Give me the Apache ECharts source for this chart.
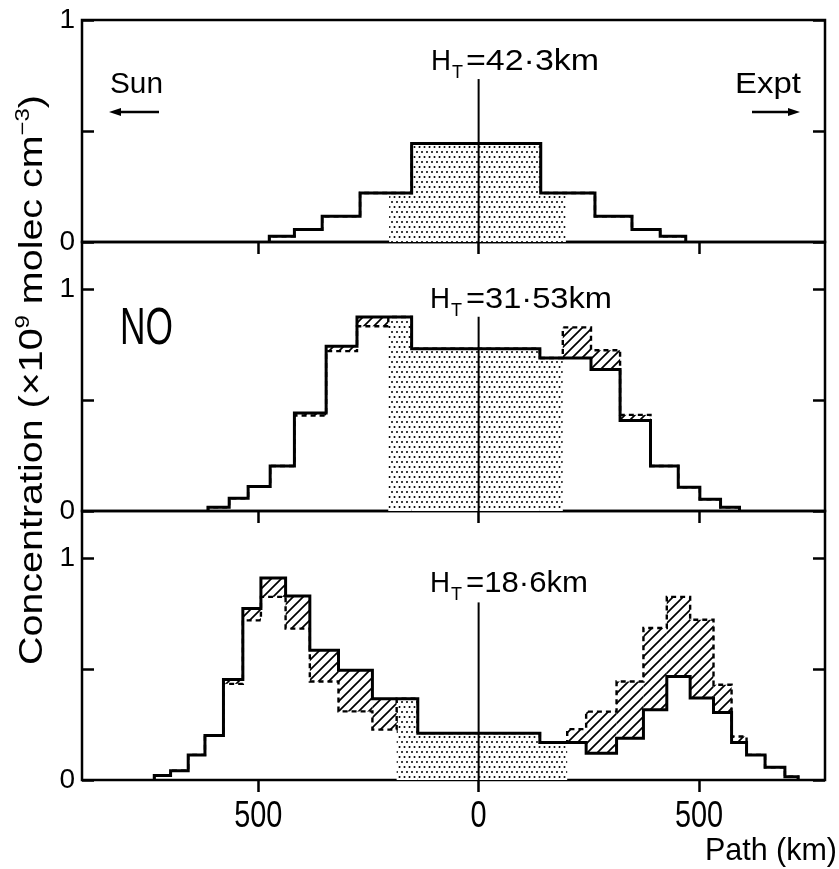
<!DOCTYPE html>
<html><head><meta charset="utf-8">
<script src="https://cdn.jsdelivr.net/npm/echarts@6/dist/echarts.min.js"></script>
<style>html,body{margin:0;padding:0;background:#fff}#chart{width:839px;height:869px}</style>
</head><body><div id="chart"></div>
<script>
// ---------------- data ----------------
const xTickValues = [-500, 0, 500];
const xTickLabels = ['500', '0', '500'];
const yLabelValues = [0, 1];
const panelHeights = ['=42·3km', '=31·53km', '=18·6km'];

// top panel, H_T = 42.3 km
const topEdges = [-475, -418, -355, -269, -203, -152, 141, 198, 264, 348, 412, 470];
const topSolid = [0.026, 0.056, 0.116, 0.221, 0.221, 0.444, 0.221, 0.221, 0.116, 0.056, 0.026];
const topDashed = topSolid;
const topStipple = [-203, 198];

// middle panel, H_T = 31.53 km
const midEdges = [-614, -566, -523, -473, -418, -346, -276, -205, -152, 139, 191, 255, 321, 390, 453, 502, 549, 592];
const midSolid = [0.017, 0.057, 0.11, 0.203, 0.441, 0.742, 0.874, 0.874, 0.731, 0.689, 0.689, 0.637, 0.408, 0.203, 0.107, 0.053, 0.017];
const midDashed = [0.017, 0.057, 0.11, 0.203, 0.43, 0.72, 0.832, 0.874, 0.731, 0.689, 0.827, 0.724, 0.433, 0.203, 0.107, 0.053, 0.017];
const midStipple = [-205, 191];

// bottom panel, H_T = 18.6 km
const botEdges = [-736, -699, -659, -621, -579, -535, -494, -438, -383, -318, -241, -186, -138, 139, 201, 244, 313, 374, 427, 480, 533, 574, 608, 650, 695, 725];
const botSolid = [0.02, 0.042, 0.113, 0.2, 0.453, 0.772, 0.91, 0.829, 0.584, 0.494, 0.366, 0.366, 0.211, 0.169, 0.169, 0.12, 0.188, 0.316, 0.466, 0.369, 0.304, 0.169, 0.113, 0.057, 0.015];
const botDashed = [0.02, 0.042, 0.113, 0.2, 0.433, 0.719, 0.825, 0.682, 0.444, 0.309, 0.227, 0.366, 0.211, 0.169, 0.229, 0.308, 0.444, 0.685, 0.825, 0.722, 0.429, 0.196, 0.113, 0.057, 0.015];
const botStipple = [-186, 201];

// ---------------- layout / style ----------------
const FAM = '"Liberation Sans","DejaVu Sans",sans-serif';
const grids = [
  {left: 82, top: 20, width: 743, height: 222, ymax: 1},
  {left: 82, top: 242, width: 743, height: 269, ymax: 269 / 222},
  {left: 82, top: 511, width: 743, height: 269, ymax: 269 / 222}
];
const centreLineTop = [0.734, 0.875, 0.8];

const mctx = document.createElement('canvas').getContext('2d');
function textW(str, size) { mctx.font = size + 'px ' + FAM; return mctx.measureText(str).width; }
function fitText(str, left, right, baseline, size, extra) {
  const s = (right - left) / textW(str, size);
  return Object.assign({type: 'text', x: left, y: baseline + size * 0.21, scaleX: s, originX: 0,
    style: {text: str, font: size + 'px ' + FAM, fill: '#000', align: 'left', verticalAlign: 'bottom'}}, extra || {});
}

function makeStipple() {
  const c = document.createElement('canvas'); c.width = 10; c.height = 10;
  const g = c.getContext('2d'); g.fillStyle = '#fff'; g.fillRect(0, 0, 10, 10);
  g.fillStyle = '#000';
  [[2, 2], [7, 2], [4.5, 7], [9.5, 7], [-0.5, 7]].forEach(p => { g.beginPath(); g.arc(p[0], p[1], 1.0, 0, Math.PI * 2); g.fill(); });
  return c;
}
function makeHatch() {
  const s = 10, c = document.createElement('canvas'); c.width = s; c.height = s;
  const g = c.getContext('2d'); g.fillStyle = '#fff'; g.fillRect(0, 0, s, s);
  g.strokeStyle = '#000'; g.lineWidth = 1.7;
  g.beginPath();
  g.moveTo(-1, s + 1); g.lineTo(s + 1, -1);
  g.moveTo(-1, 1); g.lineTo(1, -1);
  g.moveTo(s - 1, s + 1); g.lineTo(s + 1, s - 1);
  g.stroke();
  return c;
}
const stipplePattern = {image: makeStipple(), repeat: 'repeat'};
const hatchPattern = {image: makeHatch(), repeat: 'repeat'};

function stepPoints(edges, vals) {
  const pts = [[edges[0], 0]];
  for (let i = 0; i < vals.length; i++) pts.push([edges[i], vals[i]]);
  pts.push([edges[edges.length - 1], vals[vals.length - 1]]);
  pts.push([edges[edges.length - 1], 0]);
  return pts;
}
function stippleRects(edges, vals, range) {
  const out = [];
  for (let i = 0; i < vals.length; i++) {
    if (edges[i] >= range[0] - 1 && edges[i + 1] <= range[1] + 1) out.push([edges[i], edges[i + 1], 0, vals[i]]);
  }
  return out;
}
function hatchRects(edges, s, d) {
  const out = [];
  for (let i = 0; i < s.length; i++) if (s[i] !== d[i]) out.push([edges[i], edges[i + 1], Math.min(s[i], d[i]), Math.max(s[i], d[i])]);
  return out;
}
function rectRenderer(fill) {
  return function (params, api) {
    const p0 = api.coord([api.value(0), api.value(3)]);
    const p1 = api.coord([api.value(1), api.value(2)]);
    return {type: 'rect', shape: {x: p0[0], y: p0[1], width: p1[0] - p0[0], height: p1[1] - p0[1]}, style: {fill: fill, stroke: null}};
  };
}
function vlineRenderer(params, api) {
  const a = api.coord([api.value(0), api.value(1)]);
  const b = api.coord([api.value(0), 0]);
  return {type: 'line', shape: {x1: a[0], y1: a[1], x2: b[0], y2: b[1]}, style: {stroke: '#000', lineWidth: 2}};
}

const panels = [
  {edges: topEdges, solid: topSolid, dashed: topDashed, stipple: topStipple},
  {edges: midEdges, solid: midSolid, dashed: midDashed, stipple: midStipple},
  {edges: botEdges, solid: botSolid, dashed: botDashed, stipple: botStipple}
];

const option = {
  animation: false,
  backgroundColor: '#fff',
  grid: grids.map(g => ({left: g.left, top: g.top, width: g.width, height: g.height, show: true, borderColor: '#000', borderWidth: 2.5, backgroundColor: 'transparent'})),
  xAxis: grids.map((g, i) => ({
    gridIndex: i, type: 'value', min: -900, max: 786, position: 'bottom',
    axisLine: {show: false, onZero: false}, splitLine: {show: false},
    axisTick: {show: true, inside: false, length: 12, customValues: xTickValues, lineStyle: {color: '#000', width: 2.5}},
    axisLabel: {show: false}
  })),
  yAxis: [].concat(...grids.map((g, i) => [
    {gridIndex: i, type: 'value', min: 0, max: g.ymax, interval: 0.5, position: 'left',
      axisLine: {show: false, onZero: false}, splitLine: {show: false},
      axisTick: {show: true, inside: true, length: 12, lineStyle: {color: '#000', width: 2.5}},
      axisLabel: {show: true, showMaxLabel: i === 0, color: '#000', fontFamily: FAM, fontSize: 28, margin: 7,
        formatter: v => (yLabelValues.indexOf(v) >= 0 ? String(v) : '')}},
    {gridIndex: i, type: 'value', min: 0, max: g.ymax, interval: 0.5, position: 'right',
      axisLine: {show: false, onZero: false}, splitLine: {show: false},
      axisTick: {show: true, inside: true, length: 12, lineStyle: {color: '#000', width: 2.5}},
      axisLabel: {show: false}}
  ])),
  series: [].concat(...panels.map((p, i) => [
    {type: 'custom', xAxisIndex: i, yAxisIndex: 2 * i, z: 1, renderItem: rectRenderer(stipplePattern), data: stippleRects(p.edges, p.solid, p.stipple), silent: true},
    {type: 'custom', xAxisIndex: i, yAxisIndex: 2 * i, z: 1, renderItem: rectRenderer(hatchPattern), data: hatchRects(p.edges, p.solid, p.dashed), silent: true},
    {type: 'line', xAxisIndex: i, yAxisIndex: 2 * i, z: 2, step: 'end', symbol: 'none', data: stepPoints(p.edges, p.dashed),
      lineStyle: {color: '#000', width: 2.4, type: [5, 4], join: 'miter'}, silent: true},
    {type: 'line', xAxisIndex: i, yAxisIndex: 2 * i, z: 3, step: 'end', symbol: 'none', data: stepPoints(p.edges, p.solid),
      lineStyle: {color: '#000', width: 3, join: 'miter'}, silent: true},
    {type: 'custom', xAxisIndex: i, yAxisIndex: 2 * i, z: 4, renderItem: vlineRenderer, data: [[0, centreLineTop[i]]], silent: true}
  ]))
};
const chart = echarts.init(document.getElementById('chart'), null, {renderer: 'canvas'});
chart.setOption(option);

// ---------------- annotations ----------------
const labelBoxes = [ // [H left, baseline, rest left, rest right]
  [431, 70, 466, 599], [430, 308, 466, 612], [430, 592, 466, 588]
];
const graphics = [];
labelBoxes.forEach((b, i) => {
  graphics.push(fitText('H', b[0], b[0] + 20, b[1], 30));
  graphics.push(fitText('T', b[0] + 21, b[0] + 32, b[1] + 8, 19));
  graphics.push(fitText(panelHeights[i], b[2], b[3], b[1], 30));
});
xTickValues.forEach((v, k) => {
  const px = chart.convertToPixel({xAxisIndex: 2}, v);
  const w = textW(xTickLabels[k], 37) * 0.78;
  graphics.push(fitText(xTickLabels[k], px - w / 2, px + w / 2, 828, 37));
});
graphics.push(fitText('Path (km)', 705, 837, 860, 32));
graphics.push(fitText('NO', 120, 173, 345, 51));
graphics.push(fitText('Sun', 110, 163, 93, 29));
graphics.push(fitText('Expt', 735, 801, 93, 29));
graphics.push({type: 'line', shape: {x1: 118, y1: 112, x2: 159, y2: 112}, style: {stroke: '#000', lineWidth: 2.5}});
graphics.push({type: 'polygon', shape: {points: [[109, 112], [121, 108], [121, 116]]}, style: {fill: '#000'}});
graphics.push({type: 'line', shape: {x1: 752, y1: 112, x2: 791, y2: 112}, style: {stroke: '#000', lineWidth: 2.5}});
graphics.push({type: 'polygon', shape: {points: [[800, 112], [788, 108], [788, 116]]}, style: {fill: '#000'}});

(function () {
  const size = 33, sup = 20;
  const segs = [['Concentration (×10', size, 0], ['9', sup, -13], [' molec cm', size, 0], ['−3', sup, -13], [')', size, 0]];
  const yBottom = 665, yTop = 95, base = 42;
  let total = 0; segs.forEach(s => total += textW(s[0], s[1]));
  const sc = (yBottom - yTop) / total;
  const children = []; let lx = 0;
  segs.forEach(s => {
    children.push({type: 'text', x: lx, y: s[2] + s[1] * 0.21, scaleX: sc,
      style: {text: s[0], font: s[1] + 'px ' + FAM, fill: '#000', align: 'left', verticalAlign: 'bottom'}});
    lx += textW(s[0], s[1]) * sc;
  });
  graphics.push({type: 'group', x: base, y: yBottom, rotation: Math.PI / 2, children: children});
})();
chart.setOption({graphic: graphics});
</script></body></html>
